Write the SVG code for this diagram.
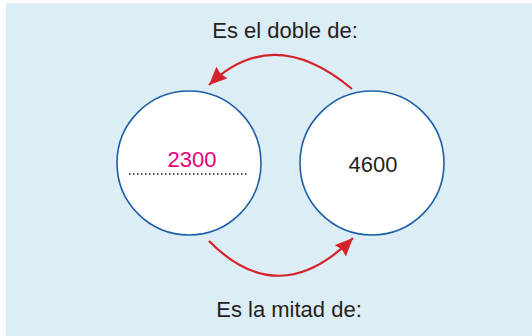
<svg xmlns="http://www.w3.org/2000/svg" width="532" height="336" viewBox="0 0 532 336">
<style>
.node{fill:#ffffff;stroke:#1d5fa6;stroke-width:1.6}
.lbl{font-family:"Liberation Sans",Arial,sans-serif;font-size:22px;fill:#231f20;text-anchor:middle}
.arr{fill:none;stroke:#d4232b;stroke-width:2.2}
</style>
<defs>
<marker id="ah" markerUnits="userSpaceOnUse" markerWidth="22" markerHeight="18" refX="18" refY="8" orient="auto">
<path d="M0,0 L18,8 L0,16 L2,8 z" fill="#d4232b"/>
</marker>
</defs>
<rect x="6" y="3" width="526" height="333" fill="#ddedf6"/>
<text class="lbl" x="285" y="38">Es el doble de:</text>
<text class="lbl" x="289" y="317">Es la mitad de:</text>
<g id="left">
<circle class="node" cx="189" cy="163" r="72"/>
<text class="lbl" x="192" y="167" style="fill:#e6007e">2300</text>
<line x1="129" y1="174" x2="249" y2="174" stroke="#231f20" stroke-width="1.5" stroke-dasharray="1.5 2.5"/>
</g>
<g id="right">
<circle class="node" cx="372" cy="163" r="72"/>
<text class="lbl" x="373" y="172">4600</text>
</g>
<g id="connectors">
<path class="arr" d="M352,89 Q273,23 209,85" marker-end="url(#ah)"/>
<path class="arr" d="M209,241 Q279,312 353,238" marker-end="url(#ah)"/>
</g>
</svg>
